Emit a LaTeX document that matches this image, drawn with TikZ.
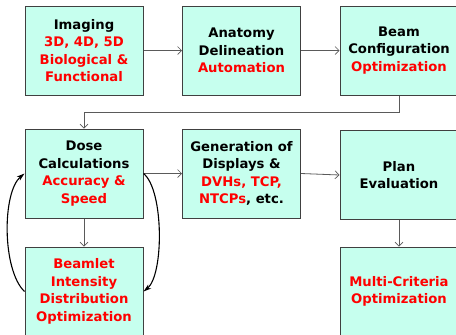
\documentclass[tikz,border=0pt]{standalone}
\usepackage{fontspec}
\setmainfont{DejaVu Sans}
\usetikzlibrary{arrows.meta}
\definecolor{boxfill}{RGB}{198,255,238}
\definecolor{boxline}{RGB}{64,64,64}
\definecolor{flowline}{RGB}{90,90,90}
\newcommand{\hl}[1]{\textcolor{red}{#1}}
\tikzset{
  stagebox/.style={draw=boxline, line width=1pt, fill=boxfill,
    minimum width=118pt, minimum height=89pt, inner sep=0pt,
    align=center, font=\bfseries\fontsize{13.2}{17.6}\selectfont},
  flow/.style={draw=flowline, line width=0.8pt,
    -{Straight Barb[length=4pt,width=8pt,line width=0.7pt]}},
  loop/.style={draw=black, line width=1.1pt,
    -{Stealth[length=8pt,width=5pt]}}
}
\begin{document}
\begin{tikzpicture}[x=1pt,y=-1pt]
\useasboundingbox (0,0) rectangle (456,335);
\clip (0,0) rectangle (456,335);
\fill[white] (0,0) rectangle (456,335);

% first row
\node[stagebox] (img)  at (84,50.5)   {Imaging\\\hl{3D, 4D, 5D}\\\hl{Biological \&}\\\hl{Functional}};
\node[stagebox] (anat) at (241.5,50.5) {Anatomy\\Delineation\\\hl{Automation}};
\node[stagebox] (beam) at (399,50.5)  {Beam\\Configuration\\\hl{Optimization}};

% second row
\node[stagebox] (dose) at (84,173.5)   {Dose\\Calculations\\\hl{Accuracy \&}\\\hl{Speed}};
\node[stagebox] (gen)  at (241.5,173.5) {Generation of\\Displays \&\\\hl{DVHs, TCP,}\\\hl{NTCPs}, etc.};
\node[stagebox] (plan) at (399,175)   {Plan\\Evaluation};

% third row
\node[stagebox] (beamlet) at (84,291.5)  {\hl{Beamlet}\\\hl{Intensity}\\\hl{Distribution}\\\hl{Optimization}};
\node[stagebox] (multi)   at (399,291.5) {\hl{Multi-Criteria}\\\hl{Optimization}};

% straight flow connectors
\draw[flow] (img.east) -- (anat.west);
\draw[flow] (anat.east) -- (beam.west);
\draw[flow] (beam.south) -- ++(0,17) -| (dose.north);
\draw[flow] (dose.east) -- (gen.west);
\draw[flow] (gen.east) -- (plan.west);
\draw[flow] (dose.south) -- (beamlet.north);
\draw[flow] (plan.south) -- (multi.north);

% iteration loop between dose calculation and beamlet optimization
\draw[loop] (beamlet.west) .. controls (2,270) and (2,192) .. (dose.west);
\draw[loop] (dose.east) .. controls (164,190) and (164,275) .. (beamlet.east);
\end{tikzpicture}
\end{document}
